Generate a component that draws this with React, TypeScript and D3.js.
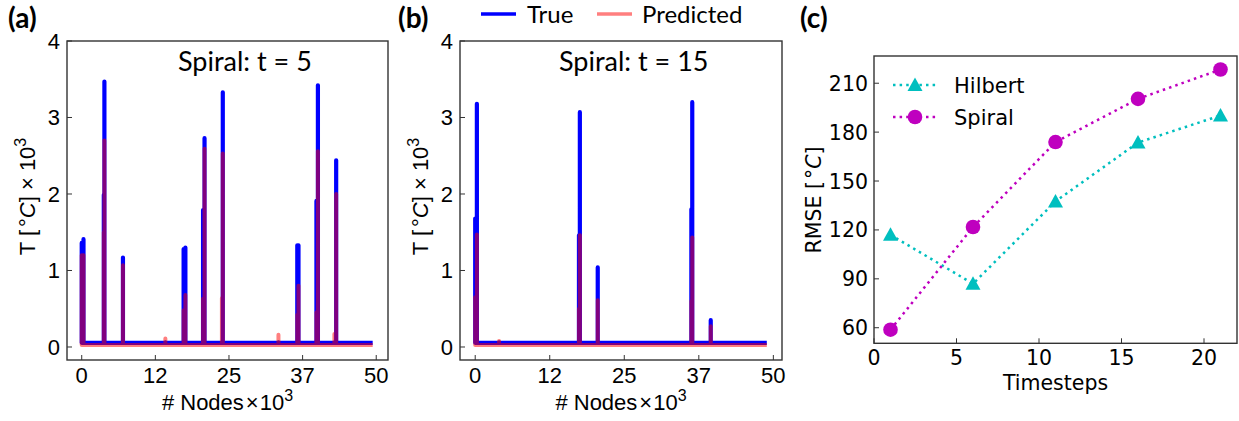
import React from "react";
import * as d3 from "d3";

const W = 1239;
const H = 421;

// shared axes for (a) and (b)
const nodeTicks = [0, 12.5, 25, 37.5, 50];
const nodeTickLabels = ["0", "12", "25", "37", "50"];
const tempTicks = [0, 1, 2, 3, 4];

// (a) Spiral, t = 5 : node position (x10^3) and spike tops (x10^3 °C)
const spikeNodesA = [0.0, 0.3, 3.75, 3.85, 7.0, 14.2, 17.3, 17.6, 20.6, 20.85, 23.8, 23.95, 33.4, 36.6, 36.8, 39.85, 40.1, 42.9, 43.2];
const trueSpikesA = [1.36, 1.41, 1.99, 3.47, 1.17, 0.06, 1.28, 1.3, 1.79, 2.73, 0.06, 3.33, 0.06, 1.33, 1.33, 1.91, 3.42, 0.06, 2.44];
const predSpikesA = [1.2, 1.2, 1.5, 2.7, 1.07, 0.11, 0.48, 0.68, 0.63, 2.59, 0.64, 2.53, 0.16, 0.42, 0.8, 0.45, 2.56, 0.17, 2.0];
const lastNodeA = 49.4;

// (b) Spiral, t = 15
const spikeNodesB = [0.0, 0.28, 4.0, 17.4, 17.55, 20.55, 36.25, 36.4, 39.5];
const trueSpikesB = [1.68, 3.18, 0.06, 1.46, 3.07, 1.04, 1.8, 3.2, 0.35];
const predSpikesB = [0.65, 1.47, 0.08, 0.5, 1.46, 0.61, 0.6, 1.43, 0.27];
const lastNodeB = 48.9;

const baseTrue = 0.055;
const basePred = 0.025;

// (c) RMSE vs timesteps
const timesteps = [1, 6, 11, 16, 21];
const rmseHilbert = [117, 87, 137.5, 173.6, 190.2];
const rmseSpiral = [58.8, 121.8, 173.9, 200.4, 218.4];
const timeTicks = [0, 5, 10, 15, 20];
const rmseTicks = [60, 90, 120, 150, 180, 210];

const ARIAL = "'Liberation Sans', Arial, sans-serif";
const CALIBRI = "Lato, 'Open Sans', sans-serif";
const DEJAVU = "'DejaVu Sans', sans-serif";
const FRAME = "#333";
const TRUE_C = "#0000ff";
const PRED_C = "rgba(255,0,0,0.5)";
const CYAN = "#00bfbf";
const MAGENTA = "#bf00bf";

function spikeSeries(nodes: number[], peaks: number[], base: number, last: number) {
    const pts: [number, number][] = [[nodes[0], base]];
    nodes.forEach((n, i) => {
        pts.push([n, base], [n, peaks[i]], [n, base]);
    });
    pts.push([last, base]);
    return pts;
}

type SpikeProps = {
    left: number;
    right: number;
    domain: [number, number];
    nodes: number[];
    truth: number[];
    pred: number[];
    last: number;
    title: string;
    titleX: number;
    ylabelX: number;
};

const top = 41;
const bottom = 360;

const SpikePanel = ({ left, right, domain, nodes, truth, pred, last, title, titleX, ylabelX }: SpikeProps) => {
    const x = d3.scaleLinear().domain(domain).range([left, right]);
    const y = d3.scaleLinear().domain([-0.17, 4.0]).range([bottom, top]);
    const line = d3.line<[number, number]>()
        .x((d) => x(d[0]))
        .y((d) => y(d[1]));

    const truePath = line(spikeSeries(nodes, truth, baseTrue, last)) || "";
    const predPath = line(spikeSeries(nodes, pred, basePred, last)) || "";

    return (
        <g>
            <path d={truePath} fill="none" stroke={TRUE_C} strokeWidth={4.2} strokeLinejoin="round" />
            <path d={predPath} fill="none" stroke={PRED_C} strokeWidth={4} strokeLinejoin="round" />
            <rect x={left} y={top} width={right - left} height={bottom - top} fill="none" stroke={FRAME} strokeWidth={1.4} />
            {nodeTicks.map((t, i) => (
                <g key={"x" + t}>
                    <line x1={x(t)} x2={x(t)} y1={bottom} y2={bottom - 5} stroke={FRAME} strokeWidth={1} />
                    <text x={x(t)} y={bottom + 23} textAnchor="middle" fontFamily={ARIAL} fontSize={22}>
                        {nodeTickLabels[i]}
                    </text>
                </g>
            ))}
            {tempTicks.map((t) => (
                <g key={"y" + t}>
                    <line x1={left} x2={left + 5} y1={y(t)} y2={y(t)} stroke={FRAME} strokeWidth={1} />
                    <text x={left - 7} y={y(t) + 8} textAnchor="end" fontFamily={ARIAL} fontSize={22}>
                        {t}
                    </text>
                </g>
            ))}
            <text x={titleX} y={71} fontFamily={CALIBRI} fontSize={27}>
                {title}
            </text>
            <text x={(left + right) / 2} y={410} textAnchor="middle" fontFamily={ARIAL} fontSize={22}>
                # Nodes
                <tspan dx={2}>×</tspan>
                <tspan dx={1}>10</tspan>
                <tspan dy={-9} fontSize={16}>3</tspan>
            </text>
            <text
                transform={`translate(${ylabelX},${(top + bottom) / 2 - 4}) rotate(-90)`}
                textAnchor="middle"
                fontFamily={ARIAL}
                fontSize={22}
            >
                T [
                <tspan dx={3}>°</tspan>
                <tspan fontStyle="italic">C</tspan>
                ] × 10
                <tspan dy={-9} fontSize={16}>3</tspan>
            </text>
        </g>
    );
};

const triangle = (cx: number, cy: number) => `M${cx},${cy - 7.5}L${cx - 7.5},${cy + 6}L${cx + 7.5},${cy + 6}Z`;

const RmsePanel = () => {
    const left = 874;
    const right = 1237;
    const ctop = 56;
    const cbottom = 343.3;
    const x = d3.scaleLinear().domain([0, 22]).range([left, right]);
    const y = d3.scaleLinear().domain([50.45, 226.7]).range([cbottom, ctop]);
    const line = d3.line<number>()
        .x((_, i) => x(timesteps[i]))
        .y((d) => y(d));

    return (
        <g>
            <path d={line(rmseHilbert) || ""} fill="none" stroke={CYAN} strokeWidth={2.5} strokeDasharray="2.5 4.1" />
            <path d={line(rmseSpiral) || ""} fill="none" stroke={MAGENTA} strokeWidth={2.5} strokeDasharray="2.5 4.1" />
            {rmseHilbert.map((v, i) => (
                <path key={"h" + i} d={triangle(x(timesteps[i]), y(v))} fill={CYAN} />
            ))}
            {rmseSpiral.map((v, i) => (
                <circle key={"s" + i} cx={x(timesteps[i])} cy={y(v)} r={7.3} fill={MAGENTA} />
            ))}
            <rect x={left} y={ctop} width={right - left} height={cbottom - ctop} fill="none" stroke={FRAME} strokeWidth={1.4} />
            {timeTicks.map((t) => (
                <g key={"x" + t}>
                    <line x1={x(t)} x2={x(t)} y1={cbottom} y2={cbottom - 5} stroke={FRAME} strokeWidth={1} />
                    <text x={x(t)} y={cbottom + 22} textAnchor="middle" fontFamily={DEJAVU} fontSize={20.5}>
                        {t}
                    </text>
                </g>
            ))}
            {rmseTicks.map((t) => (
                <g key={"y" + t}>
                    <line x1={left} x2={left + 5} y1={y(t)} y2={y(t)} stroke={FRAME} strokeWidth={1} />
                    <text x={left - 6} y={y(t) + 7.5} textAnchor="end" fontFamily={DEJAVU} fontSize={20.5}>
                        {t}
                    </text>
                </g>
            ))}
            {/* legend */}
            <line x1={893} x2={937} y1={85} y2={85} stroke={CYAN} strokeWidth={2.5} strokeDasharray="2.5 4.1" />
            <path d={triangle(915, 85)} fill={CYAN} />
            <text x={954} y={93} fontFamily={DEJAVU} fontSize={21}>Hilbert</text>
            <line x1={893} x2={937} y1={117} y2={117} stroke={MAGENTA} strokeWidth={2.5} strokeDasharray="2.5 4.1" />
            <circle cx={915} cy={117} r={7.3} fill={MAGENTA} />
            <text x={954} y={125} fontFamily={DEJAVU} fontSize={21}>Spiral</text>

            <text x={(left + right) / 2} y={390} textAnchor="middle" fontFamily={DEJAVU} fontSize={20.5}>
                Timesteps
            </text>
            <text
                transform={`translate(${821},${200}) rotate(-90)`}
                textAnchor="middle"
                fontFamily={DEJAVU}
                fontSize={20.5}
            >
                RMSE [
                <tspan dx={2}>°</tspan>
                <tspan fontStyle="italic">C</tspan>
                ]
            </text>
        </g>
    );
};

export default function App() {
    return (
        <svg
            width={W}
            height={H}
            viewBox={`0 0 ${W} ${H}`}
            style={{ position: "absolute", left: 0, top: 0, background: "#fff" }}
        >
            <rect width={W} height={H} fill="#fff" />
            <SpikePanel
                left={67}
                right={388}
                domain={[-2.5, 52]}
                nodes={spikeNodesA}
                truth={trueSpikesA}
                pred={predSpikesA}
                last={lastNodeA}
                title="Spiral: t = 5"
                titleX={178}
                ylabelX={35}
            />
            <SpikePanel
                left={460}
                right={782}
                domain={[-2.55, 51.45]}
                nodes={spikeNodesB}
                truth={trueSpikesB}
                pred={predSpikesB}
                last={lastNodeB}
                title="Spiral: t = 15"
                titleX={559}
                ylabelX={428}
            />
            <RmsePanel />

            {/* legend for (a)/(b) */}
            <line x1={481} x2={516} y1={14} y2={14} stroke={TRUE_C} strokeWidth={3.5} />
            <text x={527} y={23} fontFamily={CALIBRI} fontSize={24}>True</text>
            <line x1={597} x2={632} y1={14} y2={14} stroke={PRED_C} strokeWidth={3.5} />
            <text x={642} y={23} fontFamily={CALIBRI} fontSize={24}>Predicted</text>

            {/* panel letters */}
            <text x={8} y={28} fontFamily={CALIBRI} fontWeight="bold" fontSize={28}>(a)</text>
            <text x={398} y={28} fontFamily={CALIBRI} fontWeight="bold" fontSize={28}>(b)</text>
            <text x={800} y={28} fontFamily={CALIBRI} fontWeight="bold" fontSize={28}>(c)</text>
        </svg>
    );
}
